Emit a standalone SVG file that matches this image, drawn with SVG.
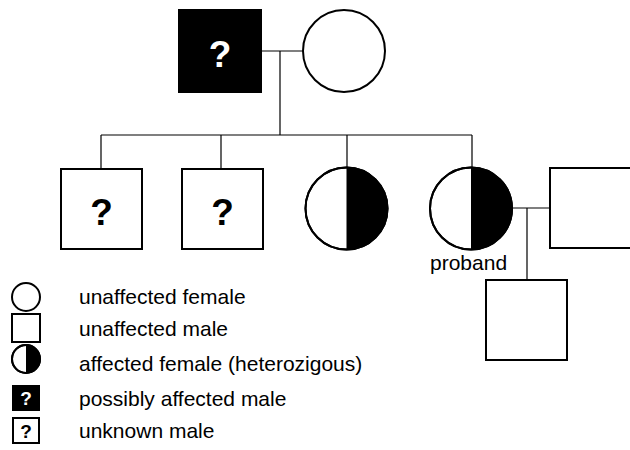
<svg xmlns="http://www.w3.org/2000/svg" width="630" height="450" viewBox="0 0 630 450">
<style>
.sym{fill:#fff;stroke:#000;stroke-width:2}
.blk{fill:#000;stroke:#000;stroke-width:2}
.ln{stroke:#000;stroke-width:1.2;fill:none}
.q{font-family:"Liberation Sans",Arial,sans-serif;font-weight:bold;text-anchor:middle}
.lbl{font-family:"Liberation Sans",Arial,sans-serif;font-size:21px;fill:#000}
</style>
<rect width="630" height="450" fill="#fff"/>
<g id="connectors">
<path class="ln" d="M261,51H303M280,51V135M101,135H472M101,135V169M221,135V169M347,135V168M472,135V168M512,208H550M527,208V280"/>
</g>
<g id="father">
<rect class="blk" x="179" y="10" width="82" height="82"/>
<text class="q" x="220" y="67" font-size="37" fill="#fff">?</text>
</g>
<g id="mother">
<circle class="sym" cx="344" cy="51" r="41"/>
</g>
<g id="son1">
<rect class="sym" x="61" y="169" width="81" height="80"/>
<text class="q" x="101.5" y="225" font-size="37">?</text>
</g>
<g id="son2">
<rect class="sym" x="182" y="169" width="81" height="80"/>
<text class="q" x="222.5" y="225" font-size="37">?</text>
</g>
<g id="daughter">
<circle class="sym" cx="346.5" cy="208.5" r="41"/>
<path d="M346.5,167.5A41,41 0 0 1 346.5,249.5Z" fill="#000"/>
<circle cx="346.5" cy="208.5" r="41" fill="none" stroke="#000" stroke-width="2"/>
</g>
<g id="proband">
<circle class="sym" cx="471" cy="208.5" r="41"/>
<path d="M471,167.5A41,41 0 0 1 471,249.5Z" fill="#000"/>
<circle cx="471" cy="208.5" r="41" fill="none" stroke="#000" stroke-width="2"/>
<text class="lbl" x="430" y="270">proband</text>
</g>
<g id="spouse">
<rect class="sym" x="550" y="168" width="100" height="80"/>
</g>
<g id="grandchild">
<rect class="sym" x="486" y="280" width="81" height="80"/>
</g>
<g id="legend">
<circle class="sym" cx="26" cy="297" r="14"/>
<text class="lbl" x="79" y="304">unaffected female</text>
<rect class="sym" x="12" y="314" width="28" height="28"/>
<text class="lbl" x="79" y="336">unaffected male</text>
<circle class="sym" cx="26" cy="359" r="14"/>
<path d="M26,345A14,14 0 0 1 26,373Z" fill="#000"/>
<circle cx="26" cy="359" r="14" fill="none" stroke="#000" stroke-width="2"/>
<text class="lbl" x="79" y="371">affected female (heterozigous)</text>
<rect class="blk" x="13" y="386" width="26" height="24"/>
<text class="q" x="26" y="405" font-size="19" fill="#fff">?</text>
<text class="lbl" x="79" y="406">possibly affected male</text>
<rect class="sym" x="13" y="418" width="26" height="25"/>
<text class="q" x="26" y="438" font-size="19">?</text>
<text class="lbl" x="79" y="438">unknown male</text>
</g>
</svg>
